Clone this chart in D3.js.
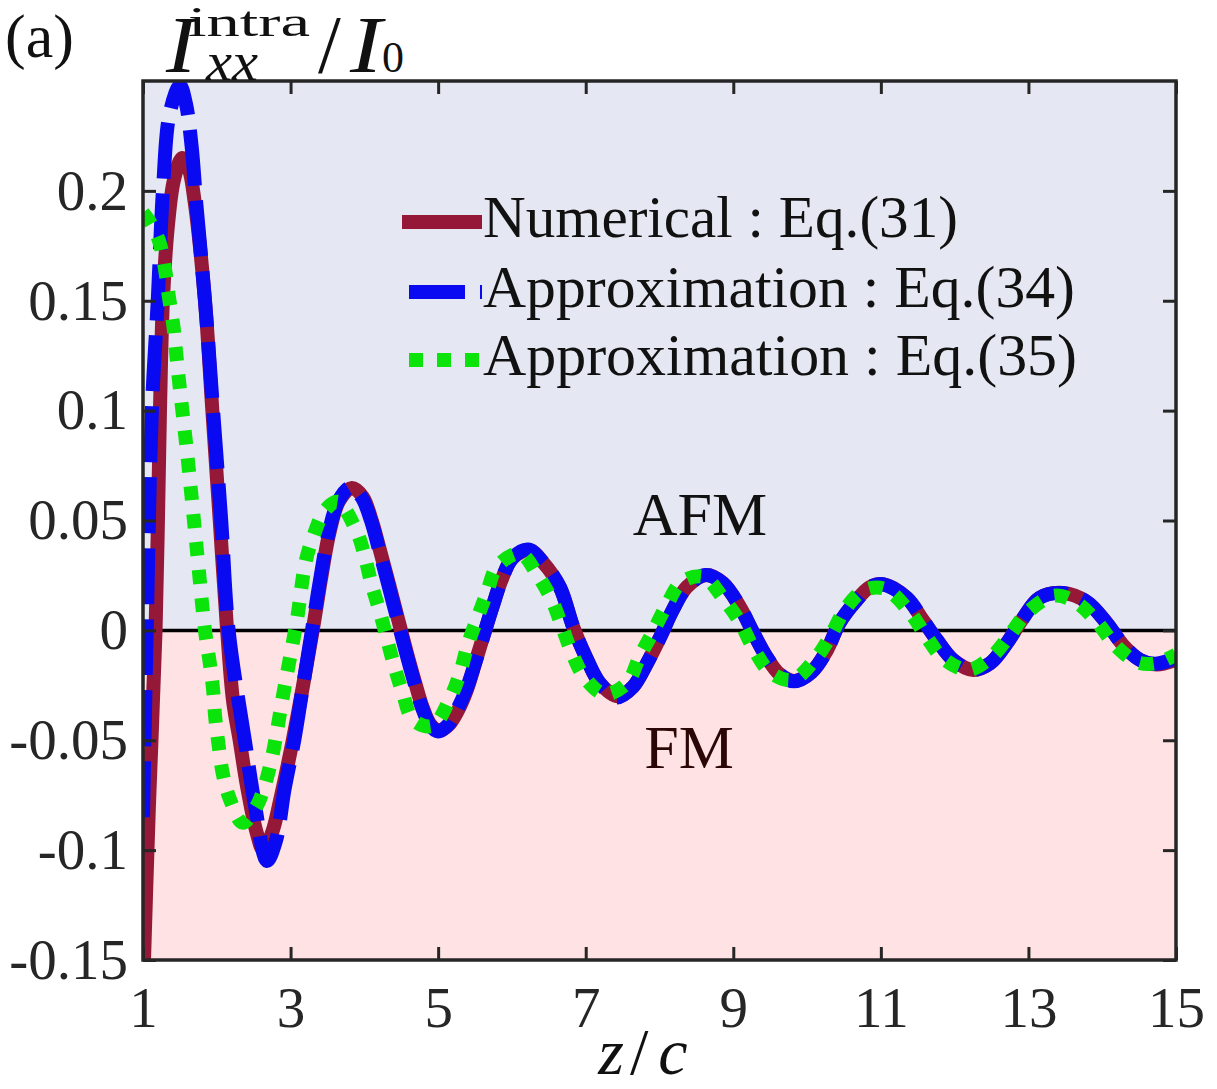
<!DOCTYPE html>
<html>
<head>
<meta charset="utf-8">
<script src="https://cdn.jsdelivr.net/npm/d3@7"></script>
<style>
  html, body { margin: 0; padding: 0; background: #fff; }
  svg text { font-family: "Liberation Serif", "DejaVu Serif", serif; }
</style>
</head>
<body>
<svg id="chart" width="1217" height="1089"></svg>
<script>
// numerical solution, Eq.(31)
const zNum = [1.00, 1.08, 1.17, 1.23, 1.27, 1.34, 1.42, 1.53, 1.62, 1.70, 1.84, 1.94, 2.04, 2.14, 2.22, 2.31, 2.41, 2.54, 2.63, 2.75, 2.86, 3.03, 3.17, 3.30,
  3.42, 3.53, 3.66, 3.83, 3.98, 4.10, 4.21, 4.33, 4.45, 4.57, 4.69, 4.79, 4.90, 5.02, 5.14, 5.26, 5.39, 5.50, 5.61, 5.73, 5.86, 6.01, 6.24, 6.42,
  6.65, 6.83, 7.02, 7.19, 7.44, 7.64, 7.83, 8.01, 8.18, 8.37, 8.64, 8.86, 9.09, 9.27, 9.45, 9.63, 9.83, 10.06, 10.27, 10.44, 10.65, 10.85, 11.03,
  11.35, 11.57, 11.76, 11.98, 12.25, 12.48, 12.71, 12.91, 13.15, 13.47, 13.79, 14.06, 14.28, 14.51, 14.74, 15.00]
const vNum = [-0.165, -0.080, 0.000, 0.100, 0.150, 0.185, 0.205, 0.215, 0.210, 0.195, 0.150, 0.100, 0.050, 0.000, -0.032, -0.050, -0.071, -0.092, -0.100, -0.092, -0.077, -0.050, -0.025, 0.000,
  0.025, 0.045, 0.059, 0.0648, 0.0607, 0.050, 0.0366, 0.0215, 0.0060, -0.0095, -0.0240, -0.0350, -0.0430, -0.0456, -0.0432, -0.0370, -0.027, -0.015, -0.003, 0.010, 0.023, 0.033, 0.0365, 0.031,
  0.0197, 0.0016, -0.0134, -0.024, -0.0300, -0.0257, -0.015, -0.003, 0.0093, 0.0197, 0.0252, 0.0215, 0.0107, -0.001, -0.012, -0.020, -0.0230, -0.019, -0.009, 0.0034, 0.0129, 0.0197, 0.0210,
  0.0148, 0.0047, -0.0044, -0.0135, -0.0180, -0.015, -0.0057, 0.0047, 0.0148, 0.0170, 0.013, 0.0034, -0.0066, -0.0134, -0.0155, -0.0134]

// approximation, Eq.(34)
const zApx34 = [1.00, 1.05, 1.12, 1.20, 1.27, 1.36, 1.50, 1.58, 1.66, 1.72, 1.84, 1.95, 2.06, 2.16, 2.38, 2.52, 2.68, 2.80, 2.92, 3.05, 3.17, 3.29,
  3.41, 3.52, 3.65, 3.81, 3.96, 4.09, 4.20, 4.32, 4.44, 4.56, 4.68, 4.78, 4.89, 5.00, 5.12, 5.24, 5.38, 5.50, 5.61, 5.73, 5.86, 6.01, 6.22, 6.42,
  6.65, 6.83, 7.02, 7.19, 7.42, 7.64, 7.83, 8.01, 8.18, 8.37, 8.62, 8.86, 9.09, 9.27, 9.45, 9.63, 9.82, 10.06, 10.27, 10.44, 10.65, 10.85, 11.02,
  11.35, 11.57, 11.76, 11.98, 12.23, 12.48, 12.71, 12.91, 13.15, 13.45, 13.79, 14.06, 14.28, 14.51, 14.72, 15.00]
const vApx34 = [-0.085, 0.000, 0.100, 0.150, 0.200, 0.235, 0.248, 0.240, 0.220, 0.195, 0.150, 0.100, 0.050, 0.000, -0.050, -0.080, -0.105, -0.096, -0.072, -0.050, -0.025, 0.000,
  0.025, 0.045, 0.059, 0.0650, 0.0607, 0.050, 0.0366, 0.0215, 0.0060, -0.0095, -0.0240, -0.0350, -0.0432, -0.0460, -0.0435, -0.0372, -0.027, -0.015, -0.003, 0.010, 0.023, 0.033, 0.0368, 0.031,
  0.0197, 0.0016, -0.0134, -0.024, -0.0305, -0.0257, -0.015, -0.003, 0.0093, 0.0197, 0.0252, 0.0215, 0.0107, -0.001, -0.012, -0.020, -0.0232, -0.019, -0.009, 0.0034, 0.0129, 0.0197, 0.0210,
  0.0148, 0.0047, -0.0044, -0.0135, -0.0180, -0.015, -0.0057, 0.0047, 0.0148, 0.0170, 0.013, 0.0034, -0.0066, -0.0134, -0.0152, -0.0125]

// approximation, Eq.(35)
const zApx35 = [1.00, 1.09, 1.22, 1.30, 1.35, 1.41, 1.45, 1.49, 1.60, 1.72, 1.84, 1.91, 1.95, 1.98, 2.02, 2.08, 2.18, 2.35, 2.54, 2.65, 2.75, 2.82, 2.88, 2.95, 3.02, 3.09,
  3.20, 3.30, 3.47, 3.64, 3.90, 4.01, 4.10, 4.21, 4.31, 4.41, 4.52, 4.66, 4.92, 5.16, 5.30, 5.40, 5.53, 5.66, 5.80, 6.11, 6.35, 6.54,
  6.68, 6.81, 6.99, 7.26, 7.56, 7.73, 7.91, 8.10, 8.30, 8.60, 8.86, 9.09, 9.27, 9.50, 9.80, 10.10, 10.31, 10.51, 10.76, 11.05,
  11.39, 11.62, 11.84, 12.18, 12.50, 12.75, 12.98, 13.35, 13.66, 13.93, 14.17, 14.47, 14.72, 15.00]
const vApx35 = [0.190, 0.186, 0.177, 0.164, 0.152, 0.139, 0.126, 0.113, 0.080, 0.040, 0.000, -0.016, -0.027, -0.040, -0.051, -0.065, -0.077, -0.0875, -0.080, -0.0705, -0.0575, -0.045, -0.033, -0.020, -0.0075, 0.0056,
  0.0306, 0.042, 0.0548, 0.0585, 0.0447, 0.033, 0.0207, 0.0084, -0.0044, -0.0167, -0.0285, -0.0407, -0.0435, -0.031, -0.019, -0.0067, 0.0055, 0.017, 0.029, 0.0350, 0.025, 0.0138,
  0.0016, -0.010, -0.0217, -0.0290, -0.024, -0.012, -0.0007, 0.0116, 0.022, 0.0243, 0.0147, 0.0038, -0.008, -0.019, -0.0225, -0.0135, -0.003, 0.0093, 0.018, 0.0190,
  0.0084, -0.003, -0.0126, -0.0180, -0.012, -0.002, 0.008, 0.0158, 0.0124, 0.0038, -0.0066, -0.0144, -0.0150, -0.0110]

const xTicks = [1, 3, 5, 7, 9, 11, 13, 15]
const yTicks = [-0.15, -0.1, -0.05, 0, 0.05, 0.1, 0.15, 0.2]
const yTickLabels = ["-0.15", "-0.1", "-0.05", "0", "0.05", "0.1", "0.15", "0.2"]
const legendLabels = ["Numerical : Eq.(31)", "Approximation : Eq.(34)", "Approximation : Eq.(35)"]

const svg = d3.select("#chart")
const pLeft = 143, pRight = 1176, pTop = 81, pBottom = 960

let x = d3.scaleLinear().domain([1, 15]).range([pLeft, pRight])
let y = d3.scaleLinear().domain([-0.15, 0.25]).range([pBottom, pTop])

// region shading
svg.append("rect")
  .attr("x", pLeft).attr("y", y(0.25))
  .attr("width", pRight - pLeft).attr("height", y(0) - y(0.25))
  .attr("fill", "#e5e8f2")
svg.append("rect")
  .attr("x", pLeft).attr("y", y(0))
  .attr("width", pRight - pLeft).attr("height", y(-0.15) - y(0))
  .attr("fill", "#ffe3e4")

svg.append("clipPath").attr("id", "plotClip")
  .append("rect")
  .attr("x", pLeft).attr("y", pTop)
  .attr("width", pRight - pLeft).attr("height", pBottom - pTop)

// zero line
svg.append("line")
  .attr("x1", pLeft).attr("x2", pRight)
  .attr("y1", y(0)).attr("y2", y(0))
  .attr("stroke", "#000").attr("stroke-width", 3.5)

// region labels
svg.append("text").attr("x", 700).attr("y", 535)
  .attr("text-anchor", "middle").attr("font-size", 62).attr("fill", "#111")
  .text("AFM")
svg.append("text").attr("x", 689).attr("y", 768)
  .attr("text-anchor", "middle").attr("font-size", 62).attr("fill", "#2a0606")
  .text("FM")

// curves
let lineGen = d3.line()
  .x(d => x(d[0]))
  .y(d => y(d[1]))
  .curve(d3.curveCatmullRom.alpha(0.5))

let series = [
  {z: zNum, v: vNum, color: "#961838", dash: null},
  {z: zApx34, v: vApx34, color: "#0a0af2", dash: "56,15"},
  {z: zApx35, v: vApx35, color: "#0ae40a", dash: "14,14"}
]

let curveGrp = svg.append("g").attr("clip-path", "url(#plotClip)")
series.forEach(s => {
  curveGrp.append("path")
    .datum(d3.zip(s.z, s.v))
    .attr("d", lineGen)
    .attr("fill", "none")
    .attr("stroke", s.color)
    .attr("stroke-width", 14)
    .attr("stroke-linejoin", "round")
    .attr("stroke-dasharray", s.dash)
})

// axes, ticks pointing inward
let fontSize = 57
let gx = svg.append("g").attr("transform", `translate(0,${pBottom})`)
  .call(d3.axisBottom(x).tickValues(xTicks).tickSize(-13).tickPadding(27).tickFormat(d3.format("d")))
let gy = svg.append("g").attr("transform", `translate(${pLeft},0)`)
  .call(d3.axisLeft(y).tickValues(yTicks).tickSize(-13).tickPadding(15).tickFormat((d, i) => yTickLabels[i]))
let gxt = svg.append("g").attr("transform", `translate(0,${pTop})`)
  .call(d3.axisTop(x).tickValues(xTicks).tickSize(-13).tickFormat(""))
let gyr = svg.append("g").attr("transform", `translate(${pRight},0)`)
  .call(d3.axisRight(y).tickValues(yTicks).tickSize(-13).tickFormat(""))

;[gx, gy, gxt, gyr].forEach(g => {
  g.select(".domain").remove()
  g.selectAll(".tick line").attr("stroke", "#262626").attr("stroke-width", 3)
  g.selectAll(".tick text")
    .attr("font-family", "Liberation Serif, DejaVu Serif, serif")
    .attr("font-size", fontSize).attr("fill", "#262626")
})

// box
svg.append("rect")
  .attr("x", pLeft).attr("y", pTop)
  .attr("width", pRight - pLeft).attr("height", pBottom - pTop)
  .attr("fill", "none").attr("stroke", "#262626").attr("stroke-width", 3.5)

// legend
let legendY = [222, 292, 360]
let legendLen = [475, 592, 594]
series.forEach((s, i) => {
  let x0 = i === 0 ? 402 : 409
  svg.append("line")
    .attr("x1", x0).attr("x2", 482)
    .attr("y1", legendY[i]).attr("y2", legendY[i])
    .attr("stroke", s.color).attr("stroke-width", 14)
    .attr("stroke-dasharray", s.dash)
  svg.append("text")
    .attr("x", 483).attr("y", legendY[i] + 15)
    .attr("font-size", 59).attr("fill", "#111")
    .attr("textLength", legendLen[i]).attr("lengthAdjust", "spacingAndGlyphs")
    .text(legendLabels[i])
})

// panel tag and axis labels
svg.append("text").attr("x", 5).attr("y", 57).attr("font-size", 62).attr("fill", "#111").text("(a)")

let yl = svg.append("g").attr("fill", "#111")
yl.append("text").attr("x", 166).attr("y", 72).attr("font-size", 80).attr("font-style", "italic")
  .attr("textLength", 30).attr("lengthAdjust", "spacingAndGlyphs").text("I")
yl.append("text").attr("x", 188).attr("y", 36).attr("font-size", 42)
  .attr("font-family", "DejaVu Serif, serif")
  .attr("textLength", 122).attr("lengthAdjust", "spacingAndGlyphs").text("intra")
yl.append("text").attr("x", 206).attr("y", 80).attr("font-size", 54).attr("font-style", "italic")
  .attr("textLength", 52).attr("lengthAdjust", "spacingAndGlyphs").text("xx")
yl.append("text").attr("x", 318).attr("y", 72).attr("font-size", 82).text("/")
yl.append("text").attr("x", 350).attr("y", 72).attr("font-size", 80).attr("font-style", "italic")
  .attr("textLength", 32).attr("lengthAdjust", "spacingAndGlyphs").text("I")
yl.append("text").attr("x", 382).attr("y", 72).attr("font-size", 44).text("0")

let xl = svg.append("text").attr("x", 643).attr("y", 1074).attr("text-anchor", "middle")
  .attr("font-size", 66).attr("fill", "#111")
xl.append("tspan").attr("font-style", "italic").text("z")
xl.append("tspan").attr("dx", 6).text("/")
xl.append("tspan").attr("dx", 10).attr("font-style", "italic").text("c")
</script>
</body>
</html>
